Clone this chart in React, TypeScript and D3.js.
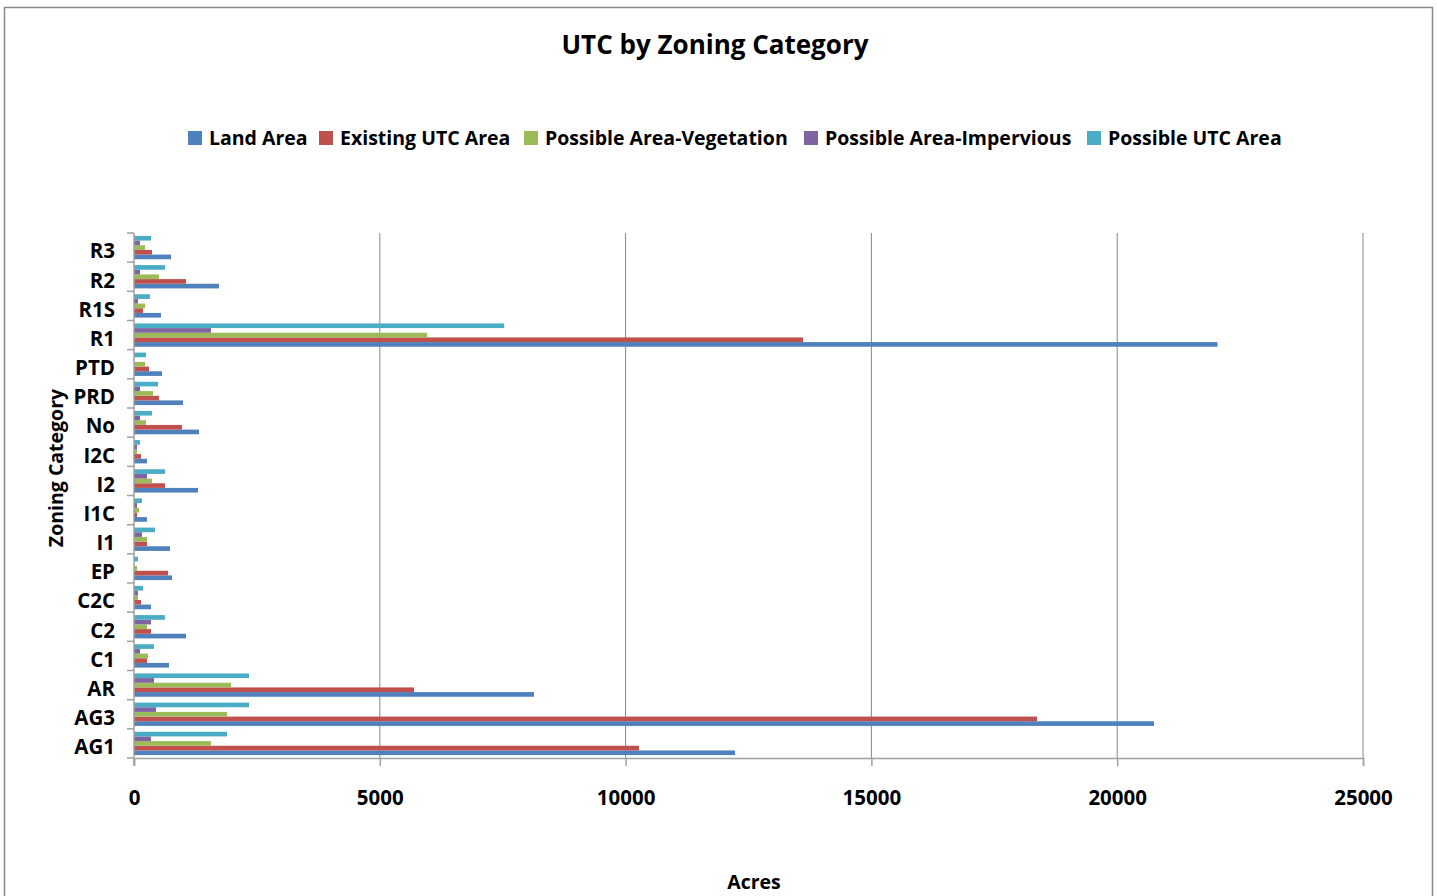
import React, { useRef, useEffect } from 'react';
import * as d3 from 'd3';

// zoning categories, in the order Excel lists them (bottom to top on the chart)
const categories = ['AG1', 'AG3', 'AR', 'C1', 'C2', 'C2C', 'EP', 'I1', 'I1C', 'I2', 'I2C', 'No', 'PRD', 'PTD', 'R1', 'R1S', 'R2', 'R3'];

const landArea = [12226, 20749, 8137, 712, 1058, 346, 773, 732, 264, 1302, 264, 1322, 997, 570, 22040, 549, 1729, 753];
const existingUTC = [10273, 18369, 5696, 264, 346, 142, 692, 264, 61, 630, 142, 976, 508, 305, 13610, 183, 1058, 366];
const possibleVeg = [1566, 1892, 1973, 285, 264, 81, 61, 264, 102, 366, 61, 244, 386, 224, 5964, 224, 508, 224];
const possibleImp = [346, 448, 407, 122, 346, 81, 0, 163, 61, 264, 61, 122, 122, 0, 1566, 81, 122, 122];
const possibleUTC = [1892, 2339, 2339, 407, 630, 183, 81, 427, 163, 630, 122, 366, 488, 244, 7531, 325, 630, 346];

const seriesNames = ['Land Area', 'Existing UTC Area', 'Possible Area-Vegetation', 'Possible Area-Impervious', 'Possible UTC Area'];
const seriesColors = ['#4F81BD', '#C0504D', '#9BBB59', '#8064A2', '#4BACC6'];
const seriesValues = [landArea, existingUTC, possibleVeg, possibleImp, possibleUTC];

const xTicks = [0, 5000, 10000, 15000, 20000, 25000];

const FONT = '"Open Sans", Lato, sans-serif';

export default function App() {
  const svgRef = useRef<SVGSVGElement>(null);

  useEffect(() => {
    document.body.style.margin = '0';
    if (!svgRef.current) return;
    const svg = d3.select(svgRef.current);
    svg.selectAll('*').remove();

    const width = 1437;
    const height = 896;
    const plot = { left: 134, right: 1363, top: 233, bottom: 758 };

    // chart border
    svg.append('rect')
      .attr('x', 4.5).attr('y', 7.5)
      .attr('width', 1428).attr('height', 900)
      .attr('fill', 'white')
      .attr('stroke', '#8a8a8a')
      .attr('stroke-width', 1.5);

    const x = d3.scaleLinear().domain([0, 25000]).range([plot.left, plot.right]);

    // top to bottom: R3 ... AG1
    const y = d3.scaleBand<string>()
      .domain(categories.slice().reverse())
      .range([plot.top, plot.bottom])
      .paddingInner(0.2)
      .paddingOuter(0.1);

    // within a group the last series sits on top
    const ySeries = d3.scaleBand<number>()
      .domain([4, 3, 2, 1, 0])
      .range([0, y.bandwidth()]);

    // vertical gridlines
    svg.append('g')
      .selectAll('line')
      .data(xTicks.slice(1))
      .join('line')
      .attr('x1', d => x(d)).attr('x2', d => x(d))
      .attr('y1', plot.top).attr('y2', plot.bottom)
      .attr('stroke', '#878787')
      .attr('stroke-width', 1);

    // bars
    const groups = svg.append('g')
      .selectAll('g')
      .data(categories)
      .join('g')
      .attr('transform', d => `translate(0,${y(d)})`);

    groups.selectAll('rect')
      .data((_, i) => seriesValues.map((vals, s) => ({ s, v: vals[i] })))
      .join('rect')
      .attr('x', x(0))
      .attr('y', d => ySeries(d.s) || 0)
      .attr('width', d => x(d.v) - x(0))
      .attr('height', ySeries.bandwidth())
      .attr('fill', d => seriesColors[d.s]);

    // x axis
    const xAxis = svg.append('g')
      .attr('transform', `translate(0,${plot.bottom})`)
      .call(d3.axisBottom(x).tickValues(xTicks).tickSize(8).tickFormat(d3.format('d')));
    xAxis.select('.domain').attr('stroke', '#a0a0a0').attr('stroke-width', 1.5);
    xAxis.selectAll('line').attr('stroke', '#a0a0a0').attr('stroke-width', 1.5);
    xAxis.selectAll('text')
      .attr('y', 47)
      .attr('dy', 0)
      .attr('font-family', FONT)
      .attr('font-weight', 'bold')
      .attr('font-size', 20.5)
      .attr('fill', '#000');

    // y axis
    const step = y.step();
    const boundaries = d3.range(categories.length + 1).map(i => plot.top + i * step);
    const yAxis = svg.append('g');
    yAxis.append('line')
      .attr('x1', plot.left).attr('x2', plot.left)
      .attr('y1', plot.top).attr('y2', plot.bottom + 8)
      .attr('stroke', '#a0a0a0').attr('stroke-width', 1.5);
    yAxis.selectAll('line.tick')
      .data(boundaries)
      .join('line')
      .attr('class', 'tick')
      .attr('x1', plot.left - 7).attr('x2', plot.left)
      .attr('y1', d => d).attr('y2', d => d)
      .attr('stroke', '#a0a0a0').attr('stroke-width', 1.5);
    yAxis.selectAll('text')
      .data(categories)
      .join('text')
      .attr('x', 115)
      .attr('y', d => (y(d) || 0) + y.bandwidth() / 2 + 10.8)
      .attr('text-anchor', 'end')
      .attr('font-family', FONT)
      .attr('font-weight', 'bold')
      .attr('font-size', 20.5)
      .text(d => d);

    // title
    svg.append('text')
      .attr('x', 715).attr('y', 54)
      .attr('text-anchor', 'middle')
      .attr('font-family', FONT)
      .attr('font-weight', 'bold')
      .attr('font-size', 26)
      .text('UTC by Zoning Category');

    // axis titles
    svg.append('text')
      .attr('x', 754).attr('y', 889)
      .attr('text-anchor', 'middle')
      .attr('font-family', FONT)
      .attr('font-weight', 'bold')
      .attr('font-size', 19.5)
      .text('Acres');

    svg.append('text')
      .attr('transform', 'translate(63,468) rotate(-90)')
      .attr('text-anchor', 'middle')
      .attr('font-family', FONT)
      .attr('font-weight', 'bold')
      .attr('font-size', 19.5)
      .text('Zoning Category');

    // legend
    const legendX = [188, 319, 524, 804, 1087];
    const legend = svg.append('g')
      .selectAll('g')
      .data(seriesNames)
      .join('g')
      .attr('transform', (_, i) => `translate(${legendX[i]},131)`);
    legend.append('rect')
      .attr('width', 14).attr('height', 14)
      .attr('fill', (_, i) => seriesColors[i]);
    legend.append('text')
      .attr('x', 21).attr('y', 13.8)
      .attr('font-family', FONT)
      .attr('font-weight', 'bold')
      .attr('font-size', 19.5)
      .text(d => d);

    svg.attr('width', width).attr('height', height);
  }, []);

  return <svg ref={svgRef} style={{ display: 'block' }} />;
}
